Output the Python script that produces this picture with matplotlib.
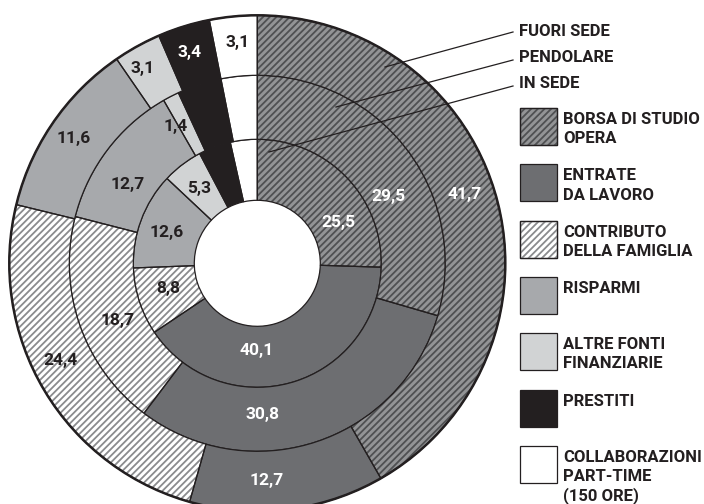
import matplotlib
matplotlib.use("Agg")
import matplotlib.pyplot as plt
from matplotlib.patches import Rectangle, Circle

# --- data -------------------------------------------------------------
categories = ["BORSA DI STUDIO\nOPERA", "ENTRATE\nDA LAVORO",
              "CONTRIBUTO\nDELLA FAMIGLIA", "RISPARMI",
              "ALTRE FONTI\nFINANZIARIE", "PRESTITI",
              "COLLABORAZIONI\nPART-TIME\n(150 ORE)"]
ring_names = ["IN SEDE", "PENDOLARE", "FUORI SEDE"]
in_sede = [25.5, 40.1, 8.8, 12.6, 5.3, 4.2, 3.5]
pendolare = [29.5, 30.8, 18.7, 12.7, 1.4, 3.8, 3.1]
fuori_sede = [41.7, 12.7, 24.4, 11.6, 3.1, 3.4, 3.1]
# how many leading slices of each ring carry a value label
labelled = [5, 5, 7]

# --- styles -----------------------------------------------------------
INK = "#231f20"
FACE = ["#939496", "#6d6e71", "#ffffff", "#a7a9ac", "#d1d3d4", "#231f20", "#ffffff"]
HATCH = ["/////", None, "/////", None, None, None, None]
HATCH_COLOR = ["#4f5052", None, "#8a8b8d", None, None, None, None]
TEXT_ON = ["white", "white", INK, INK, INK, "white", INK]
FONT = ["Roboto", "DejaVu Sans"]
FS = 12

plt.rcParams["font.family"] = FONT
plt.rcParams["font.weight"] = "bold"
plt.rcParams["hatch.linewidth"] = 1.3

W, H = 704, 504
fig = plt.figure(figsize=(W / 100, H / 100), dpi=100)
ax = fig.add_axes([0, 0, 1, 1])


def py(y):
    """pixel row (from top) -> data y (from bottom)"""
    return H - y


CENTER = (257.3, py(263.3))
RADII = [124, 188, 248]       # outer radius of each ring
WIDTHS = [61, 64, 60]

# label anchors, pixel coordinates from top-left, per ring / slice
label_xy = [
    [(338, 222), (257, 350), (168, 288), (167, 233), (199, 188)],
    [(388, 197), (263, 415), (118, 320), (128, 185), (176, 127)],
    [(465, 195), (267, 480), (60, 360), (74, 138), (143, 68), (190, 53), (238, 43)],
]


def draw_ring(values, r_out, width):
    wedges, _ = ax.pie(values, radius=r_out, center=CENTER, startangle=90,
                       counterclock=False, colors=FACE,
                       wedgeprops=dict(width=width, linewidth=0))
    for w, h, hc in zip(wedges, HATCH, HATCH_COLOR):
        if h:
            w.set_hatch(h)
            w.set_edgecolor(hc)
    ax.pie(values, radius=r_out, center=CENTER, startangle=90,
           counterclock=False,
           wedgeprops=dict(width=width, facecolor="none", edgecolor=INK,
                           linewidth=0.9))


for vals, r, w in zip([in_sede, pendolare, fuori_sede], RADII, WIDTHS):
    draw_ring(vals, r, w)

ax.add_patch(Circle(CENTER, RADII[-1], fill=False, edgecolor=INK, linewidth=1.8))

# value labels
for vals, n, pos in zip([in_sede, pendolare, fuori_sede], labelled, label_xy):
    for i in range(n):
        x, y = pos[i]
        ax.text(x, py(y), f"{vals[i]:.1f}".replace(".", ","), ha="center",
                va="center", fontsize=FS + 0.5, fontweight="bold",
                color=TEXT_ON[i])

# ring name call-outs
ring_start = [(269, 152), (336, 107), (385, 67)]
ring_end = [(513, 86), (513, 60), (513, 32)]
ring_text_y = [83, 57, 31]
for name, (x0, y0), (x1, y1), ty in zip(ring_names, ring_start, ring_end, ring_text_y):
    ax.plot([x0, x1], [py(y0), py(y1)], color=INK, linewidth=0.9)
    ax.text(519, py(ty), name, ha="left", va="center", fontsize=FS,
            fontweight="bold", color=INK)

# legend
for i, label in enumerate(categories):
    top = 108 + i * 56.3
    ax.add_patch(Rectangle((520, py(top + 37)), 37, 37, facecolor=FACE[i],
                           edgecolor=INK, linewidth=0.9))
    if HATCH[i]:
        ax.add_patch(Rectangle((520, py(top + 37)), 37, 37, facecolor="none",
                               edgecolor=HATCH_COLOR[i], linewidth=0,
                               hatch=HATCH[i]))
        ax.add_patch(Rectangle((520, py(top + 37)), 37, 37, facecolor="none",
                               edgecolor=INK, linewidth=0.9))
    for j, line in enumerate(label.split("\n")):
        ax.text(563, py(top + 16 + j * 19.3), line, ha="left", va="baseline",
                fontsize=FS, fontweight="bold", color=INK)

ax.set_xlim(0, W)
ax.set_ylim(0, H)
ax.set_aspect("equal")
ax.axis("off")
fig.savefig("out.png", dpi=100, facecolor="white")
